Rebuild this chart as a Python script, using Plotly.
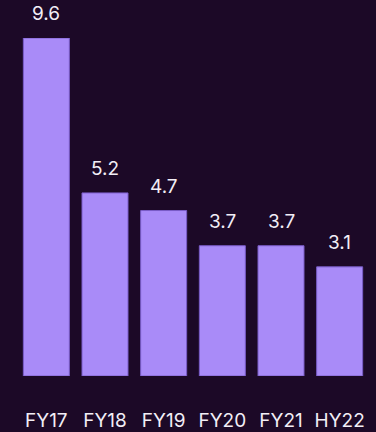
import plotly.graph_objects as go

periods = ["FY17", "FY18", "FY19", "FY20", "FY21", "HY22"]
values = [9.6, 5.2, 4.7, 3.7, 3.7, 3.1]

bg = "#1c0927"
bar_fill = "#a98bf8"
bar_edge = "#7a5cc8"
text_col = "#f2eef6"
font_family = "Inter, Roboto, sans-serif"

fig = go.Figure(
    go.Bar(
        x=periods,
        y=values,
        marker=dict(color=bar_fill, line=dict(color=bar_edge, width=1)),
        hoverinfo="skip",
    )
)

# value labels sitting above each bar
for p, v in zip(periods, values):
    fig.add_annotation(
        x=p, y=v, text=f"{v:g}", showarrow=False,
        yanchor="bottom", yshift=11,
        font=dict(family=font_family, size=19, color=text_col),
    )

fig.update_layout(
    width=376, height=432,
    margin=dict(l=17, r=7, t=38, b=56),
    paper_bgcolor=bg, plot_bgcolor=bg,
    bargap=0.216,
    showlegend=False,
    xaxis=dict(
        showgrid=False, zeroline=False, showline=False, ticks="",
        automargin=False,
        tickfont=dict(family=font_family, size=19, color=text_col),
        ticklabelstandoff=31,
    ),
    yaxis=dict(
        range=[0, 9.6], visible=False, showgrid=False, zeroline=False,
    ),
)

fig.write_html("out.html")
